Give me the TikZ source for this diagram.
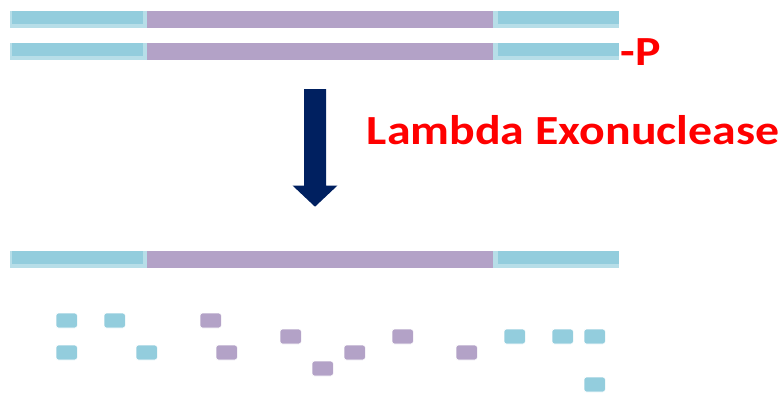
\documentclass[tikz,border=0pt]{standalone}
\usepackage{fontspec}
\setmainfont{Carlito}
\begin{document}
\begin{tikzpicture}[x=1pt,y=-1pt,
  frag/.style={rounded corners=2.5pt,draw=white,line width=0.6pt},
  bfrag/.style={frag,fill=cblue},
  pfrag/.style={frag,fill=cpurple},
  redtxt/.style={text=red,inner sep=0pt,font=\bfseries\fontsize{41.4}{46}\selectfont}]
\definecolor{cblue}{HTML}{93CDDD}
\definecolor{clight}{HTML}{B7DEE8}
\definecolor{cpurple}{HTML}{B3A2C7}
\definecolor{cnavy}{HTML}{002060}
\useasboundingbox (0,0) rectangle (782,392);
% strands
\foreach \y in {11,43,251}{
  \fill[cpurple] (147.3,\y) rectangle (493.3,\y+16.7);
  \fill[clight] (10,\y) rectangle (147.3,\y+16.7);
  \fill[cblue] (12,\y) rectangle (143.3,\y+13.4);
  \fill[clight] (493.3,\y) rectangle (619,\y+16.7);
  \fill[cblue] (497.7,\y) rectangle (619,\y+13.4);
}
\node[redtxt,anchor=base west] (p) at (620.3,65) {\scalebox{1.155}[1]{-P}};
% arrow
\coordinate (atip) at (315,206.7);
\fill[cnavy] (304,89) -- (326,89) -- (326,185.7) -- (337.3,185.7) -- (atip) -- (292.7,185.7) -- (304,185.7) -- cycle;
\node[redtxt,anchor=base] (lam) at (573,144.3) {\scalebox{1.155}[1]{Lambda Exonuclease}};
% fragments
\foreach \x/\y in {56/313,104/313,504/329,552/329,584/329,56/345,136/345,584/377}
  \draw[bfrag] (\x,\y) rectangle ++(21.3,15);
\foreach \x/\y in {200/313,280/329,392/329,216/345,344/345,456/345,312/361}
  \draw[pfrag] (\x,\y) rectangle ++(21.3,15);
\end{tikzpicture}
\end{document}
